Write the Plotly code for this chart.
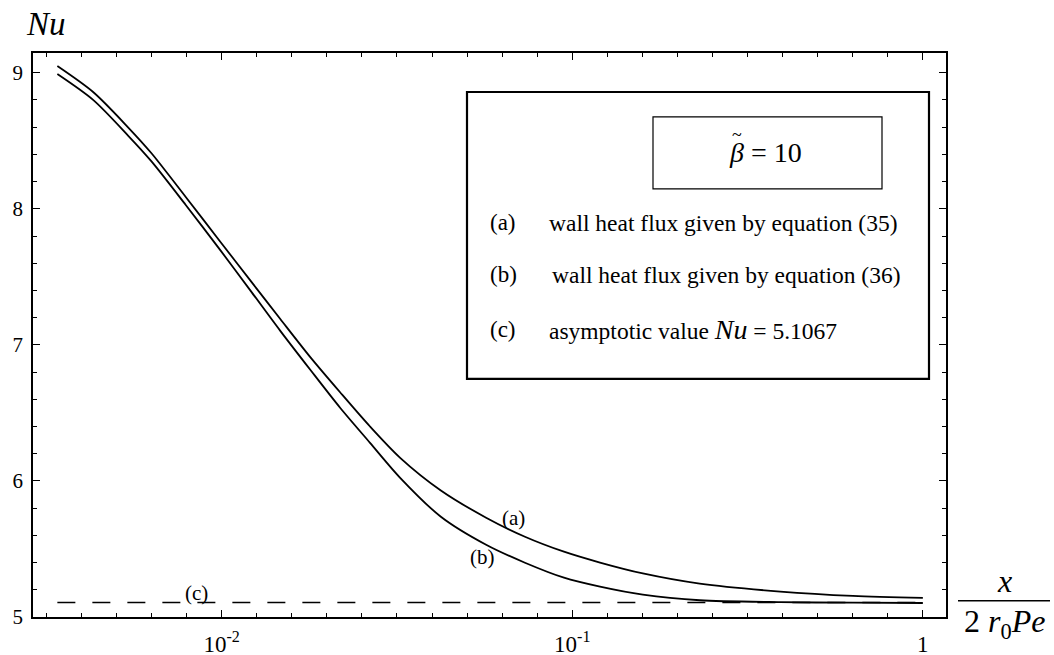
import math
import plotly.graph_objects as go

# ---- data ----
x_vals = [0.0034, 0.0043, 0.0054, 0.0063, 0.0079, 0.0099, 0.0121, 0.0147, 0.0179,
          0.0218, 0.0265, 0.0323, 0.0422, 0.0568, 0.0733, 0.0947, 0.120, 0.159,
          0.231, 0.392, 0.632, 1.0]
nu_a = [9.049, 8.858, 8.601, 8.410, 8.087, 7.76, 7.47, 7.19, 6.91, 6.65, 6.40,
        6.17, 5.93, 5.73, 5.59, 5.48, 5.40, 5.32, 5.245, 5.187, 5.155, 5.14]
nu_b = [8.990, 8.80, 8.54, 8.35, 8.028, 7.698, 7.397, 7.103, 6.817, 6.536, 6.280,
        6.023, 5.737, 5.531, 5.399, 5.289, 5.223, 5.164, 5.123, 5.109, 5.105, 5.103]
nu_asym = 5.1067
asym_x = [0.0034, 1.0]

y_ticks = [5, 6, 7, 8, 9]
x_ticks = [0.01, 0.1, 1]
x_ticktext = ["10<sup>-2</sup>", "10<sup>-1</sup>", "1"]
x_minor = [10 ** (k / 10) for k in range(-25, 1) if k % 10 != 0]

legend_rows = ["(a)", "(b)", "(c)"]
legend_texts = ["wall heat flux given by equation (35)",
                "wall heat flux given by equation (36)",
                "asymptotic value <span style='font-size:28px'><i>Nu</i></span> = 5.1067"]
curve_labels = ["(a)", "(b)", "(c)"]
curve_label_x = [0.0681, 0.0556, 0.00848]
curve_label_y = [5.727, 5.443, 5.178]

FONT = "Liberation Serif"

# plot-area geometry in pixels
W, H = 1054, 655
PL, PR, PT, PB = 33, 946, 53, 617.3


def px(x):
    return (x - PL) / (PR - PL)


def py(y):
    return (PB - y) / (PB - PT)


fig = go.Figure()
fig.add_trace(go.Scatter(x=x_vals, y=nu_a, mode="lines",
                         line=dict(color="black", width=1.8, shape="spline", smoothing=0.8),
                         showlegend=False))
fig.add_trace(go.Scatter(x=x_vals, y=nu_b, mode="lines",
                         line=dict(color="black", width=1.8, shape="spline", smoothing=0.8),
                         showlegend=False))
fig.add_trace(go.Scatter(x=asym_x, y=[nu_asym, nu_asym], mode="lines",
                         line=dict(color="black", width=1.5, dash="18px,17px"),
                         showlegend=False))

annotations = []
for t, lx, ly in zip(curve_labels, curve_label_x, curve_label_y):
    annotations.append(dict(x=math.log10(lx), y=ly, xref="x", yref="y", text=t,
                            showarrow=False, font=dict(family=FONT, size=21, color="black")))

# legend box contents
row_y = [223, 275, 330]
text_x = [547, 550, 547]
for r, t, yy, tx in zip(legend_rows, legend_texts, row_y, text_x):
    annotations.append(dict(x=px(488), y=py(yy), xref="paper", yref="paper", text=r,
                            xanchor="left", yanchor="middle", showarrow=False,
                            font=dict(family=FONT, size=23, color="black")))
    annotations.append(dict(x=px(tx), y=py(yy), xref="paper", yref="paper", text=t,
                            xanchor="left", yanchor="middle", showarrow=False,
                            font=dict(family=FONT, size=23.5, color="black")))

annotations.append(dict(x=px(727), y=py(153), xref="paper", yref="paper",
                        text="<i>β</i> = 10", xanchor="left", yanchor="middle",
                        showarrow=False, font=dict(family=FONT, size=28, color="black")))
annotations.append(dict(x=px(737), y=py(135), xref="paper", yref="paper",
                        text="~", xanchor="center", yanchor="middle",
                        showarrow=False, font=dict(family=FONT, size=18, color="black")))

# axis titles
annotations.append(dict(x=px(46), y=py(24), xref="paper", yref="paper", text="<i>Nu</i>",
                        xanchor="center", yanchor="middle", showarrow=False,
                        font=dict(family=FONT, size=33, color="black")))
annotations.append(dict(x=px(1004), y=py(581), xref="paper", yref="paper", text="<i>x</i>",
                        xanchor="center", yanchor="middle", showarrow=False,
                        font=dict(family=FONT, size=32, color="black")))
annotations.append(dict(x=px(1004), y=py(624), xref="paper", yref="paper",
                        text="2 <i>r</i><sub>0</sub><i>Pe</i>",
                        xanchor="center", yanchor="middle", showarrow=False,
                        font=dict(family=FONT, size=32, color="black")))

shapes = [
    dict(type="rect", xref="paper", yref="paper", x0=px(467), x1=px(929), y0=py(379), y1=py(92),
         line=dict(color="black", width=2.2), fillcolor="white", layer="below"),
    dict(type="rect", xref="paper", yref="paper", x0=px(653), x1=px(882), y0=py(189), y1=py(117),
         line=dict(color="black", width=1.2)),
    dict(type="line", xref="paper", yref="paper", x0=px(958), x1=px(1050), y0=py(601), y1=py(601),
         line=dict(color="black", width=1.5)),
]

fig.update_layout(
    width=W, height=H,
    margin=dict(l=PL, r=W - PR, t=PT, b=H - PB, autoexpand=False),
    paper_bgcolor="white", plot_bgcolor="white",
    font=dict(family=FONT, color="black"),
    annotations=annotations, shapes=shapes,
    showlegend=False,
)
fig.update_xaxes(
    type="log", range=[-2.538, 0.066], automargin=False,
    tickmode="array", tickvals=x_ticks, ticktext=x_ticktext,
    ticks="inside", ticklen=7, tickwidth=1.2, tickcolor="black",
    showline=True, linecolor="black", linewidth=1.8, mirror="allticks",
    showgrid=False, zeroline=False,
    tickfont=dict(family=FONT, size=23, color="black"), ticklabelstandoff=5,
    minor=dict(tickmode="array", tickvals=x_minor, ticks="inside", ticklen=4,
               tickwidth=1, tickcolor="black", showgrid=False),
)
fig.update_yaxes(
    range=[5, 9.145], automargin=False,
    tickmode="array", tickvals=y_ticks,
    ticks="inside", ticklen=7, tickwidth=1.2, tickcolor="black",
    showline=True, linecolor="black", linewidth=1.8, mirror="allticks",
    showgrid=False, zeroline=False,
    tickfont=dict(family=FONT, size=21, color="black"), ticklabelstandoff=4,
    minor=dict(dtick=0.2, ticks="inside", ticklen=4, tickwidth=1, tickcolor="black",
               showgrid=False),
)

fig.write_html("out.html")
